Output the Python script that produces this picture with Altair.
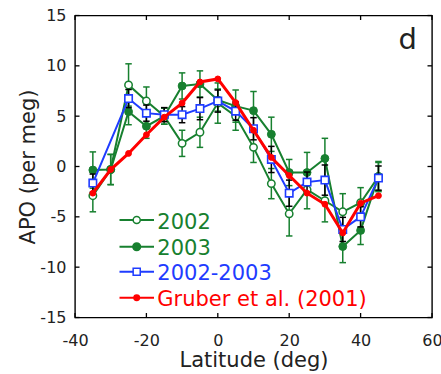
import altair as alt
import pandas as pd

# ---- data ----
lat = [-35, -30, -25, -20, -15, -10, -5, 0, 5, 10, 15, 20, 25, 30, 35, 40, 45]
apo_2002 = [-2.9, -0.3, 8.1, 6.5, 5.0, 2.3, 3.4, 6.3, 5.0, 1.9, -1.7, -4.7, -2.3, -3.4, -4.5, -3.6, -1.0]
err_2002 = [1.6, 1.5, 2.1, 1.4, 0.8, 1.3, 1.5, 2.0, 1.4, 1.5, 1.5, 2.2, 1.9, 2.1, 1.8, 1.5, 1.4]
apo_2003 = [-0.35, -0.3, 5.45, 4.0, 5.0, 8.0, 8.2, 6.6, 6.0, 5.55, 3.2, -0.6, -0.6, 0.8, -7.95, -6.35, -1.0]
err_2003 = [1.8, 1.5, 1.3, 1.2, 0.8, 1.3, 1.3, 1.1, 1.6, 1.9, 1.7, 1.3, 2.0, 2.0, 1.6, 1.4, 1.5]
lat_mean = [-35, -25, -20, -15, -10, -5, 0, 5, 10, 15, 20, 25, 30, 35, 40, 45]
apo_mean = [-1.65, 6.75, 5.3, 5.15, 5.15, 5.75, 6.5, 5.5, 3.75, 0.7, -2.65, -1.55, -1.35, -6.25, -5.0, -1.15]
err_mean = [0.9, 0.9, 0.8, 0.7, 0.8, 1.1, 1.1, 0.9, 1.1, 1.3, 1.3, 1.0, 1.5, 1.2, 1.0, 1.2]
apo_gruber = [-2.65, -0.3, 1.3, 3.15, 4.9, 6.3, 8.4, 8.7, 6.35, 3.6, 0.9, -0.9, -2.65, -3.75, -6.6, -3.65, -2.9]

x_ticks = [-40, -20, 0, 20, 40, 60]
y_ticks = [-15, -10, -5, 0, 5, 10, 15]

legend_labels = ["2002", "2003", "2002-2003", "Gruber et al. (2001)"]

GREEN = "#17802f"
BLUE = "#1f3cff"
RED = "#ff0000"
FONT = "DejaVu Sans"
W, H = 357, 302


def frame(lats, vals, errs=None):
    d = pd.DataFrame({"lat": lats, "apo": vals})
    if errs is not None:
        d["lo"] = [v - e for v, e in zip(vals, errs)]
        d["hi"] = [v + e for v, e in zip(vals, errs)]
    return d


d02 = frame(lat, apo_2002, err_2002)
d03 = frame(lat, apo_2003, err_2003)
dmn = frame(lat_mean, apo_mean, err_mean)
dgr = frame(lat, apo_gruber)

xscale = alt.Scale(domain=[-40, 60], nice=False, zero=False)
yscale = alt.Scale(domain=[-15, 15], nice=False, zero=False)
xaxis = alt.Axis(values=x_ticks, title="Latitude (deg)", titleX=W / 2, titleY=49,
                 titleBaseline="alphabetic", titleAlign="center", labelPadding=14.5,
                 labelFlush=False, labelOverlap=False,
                 labelExpr="toString(datum.value)")
yaxis = alt.Axis(values=y_ticks, title="APO (per meg)", titleX=-40.5, titleY=H / 2,
                 titleBaseline="alphabetic", titleAlign="center", labelPadding=9,
                 labelFlush=False, labelOverlap=False,
                 labelExpr="toString(datum.value)")


def X(f="lat"):
    return alt.X(f"{f}:Q", scale=xscale, axis=xaxis)


def Y(f="apo"):
    return alt.Y(f"{f}:Q", scale=yscale, axis=yaxis)


def errbars(d, color):
    bar = alt.Chart(d).mark_rule(color=color, strokeWidth=1.5).encode(x=X(), y=Y("lo"), y2="hi")
    lo = alt.Chart(d).mark_point(shape="stroke", size=42, color=color, strokeWidth=1.5, opacity=1).encode(x=X(), y=Y("lo"))
    hi = alt.Chart(d).mark_point(shape="stroke", size=42, color=color, strokeWidth=1.5, opacity=1).encode(x=X(), y=Y("hi"))
    return [bar, lo, hi]


def series(d, color, lw, shape, fill, size, sw):
    line = alt.Chart(d).mark_line(color=color, strokeWidth=lw).encode(x=X(), y=Y())
    pts = alt.Chart(d).mark_point(shape=shape, filled=True, fill=fill, stroke=color,
                                  strokeWidth=sw, size=size, opacity=1).encode(x=X(), y=Y())
    return [line, pts]


layers = []
layers += errbars(d02, GREEN)
layers += errbars(d03, GREEN)
layers += series(d02, GREEN, 2, "circle", "white", 55, 1.5)
layers += series(d03, GREEN, 2, "circle", GREEN, 62, 1)
layers += errbars(dmn, "black")
layers += series(dmn, BLUE, 2, "square", "white", 55, 1.6)
layers += series(dgr, RED, 3, "circle", RED, 34, 1)

# inward ticks on all four sides
xt = pd.DataFrame({"t": x_ticks})
yt = pd.DataFrame({"t": y_ticks})
tick_len = 4.5
layers.append(alt.Chart(xt).mark_rule(color="black", strokeWidth=1.3).encode(
    x=X("t"), y=alt.value(H), y2=alt.value(H - tick_len)))
layers.append(alt.Chart(xt).mark_rule(color="black", strokeWidth=1.3).encode(
    x=X("t"), y=alt.value(0), y2=alt.value(tick_len)))
layers.append(alt.Chart(yt).mark_rule(color="black", strokeWidth=1.3).encode(
    y=Y("t"), x=alt.value(0), x2=alt.value(tick_len)))
layers.append(alt.Chart(yt).mark_rule(color="black", strokeWidth=1.3).encode(
    y=Y("t"), x=alt.value(W), x2=alt.value(W - tick_len)))

# manual legend
leg = pd.DataFrame({
    "label": legend_labels,
    "ly": [204.5, 231.2, 256.2, 282.2],
    "ty": [213.2, 239.5, 264.8, 290.5],
    "color": [GREEN, GREEN, BLUE, RED],
    "fill": ["white", GREEN, "white", RED],
    "shape": ["circle", "circle", "square", "circle"],
    "size": [50, 58, 50, 30],
})
layers.append(alt.Chart(leg).mark_rule(strokeWidth=2).encode(
    x=alt.value(44.5), x2=alt.value(79), y=alt.Y("ly:Q", scale=None),
    color=alt.Color("color:N", scale=None)))
layers.append(alt.Chart(leg).mark_point(filled=True, strokeWidth=1.5, opacity=1).encode(
    x=alt.value(61.7), y=alt.Y("ly:Q", scale=None),
    stroke=alt.Stroke("color:N", scale=None), fill=alt.Fill("fill:N", scale=None),
    shape=alt.Shape("shape:N", scale=None), size=alt.Size("size:Q", scale=None)))
layers.append(alt.Chart(leg).mark_text(align="left", baseline="alphabetic", font=FONT, fontSize=21).encode(
    x=alt.value(82.3), y=alt.Y("ty:Q", scale=None), text="label:N",
    color=alt.Color("color:N", scale=None)))

# panel label
layers.append(alt.Chart(pd.DataFrame({"p": ["d"]})).mark_text(
    align="right", baseline="alphabetic", font=FONT, fontSize=29, color="#222").encode(
    x=alt.value(342), y=alt.value(33), text="p:N"))

chart = alt.layer(*layers).properties(
    width=W, height=H, background="white",
    autosize=alt.AutoSizeParams(type="none"),
    padding={"left": 75, "top": 15.5, "right": 441 - 75 - W, "bottom": 374 - 15.5 - H},
).configure_view(stroke="black", strokeWidth=1.4).configure_axis(
    domain=False, ticks=False, tickSize=0, grid=False,
    labelFont=FONT, labelFontSize=16, labelColor="#222",
    titleFont=FONT, titleFontSize=21, titleFontWeight="normal", titleColor="#222",
)

chart.save("out.html", embed_options={"renderer": "svg", "actions": False})
